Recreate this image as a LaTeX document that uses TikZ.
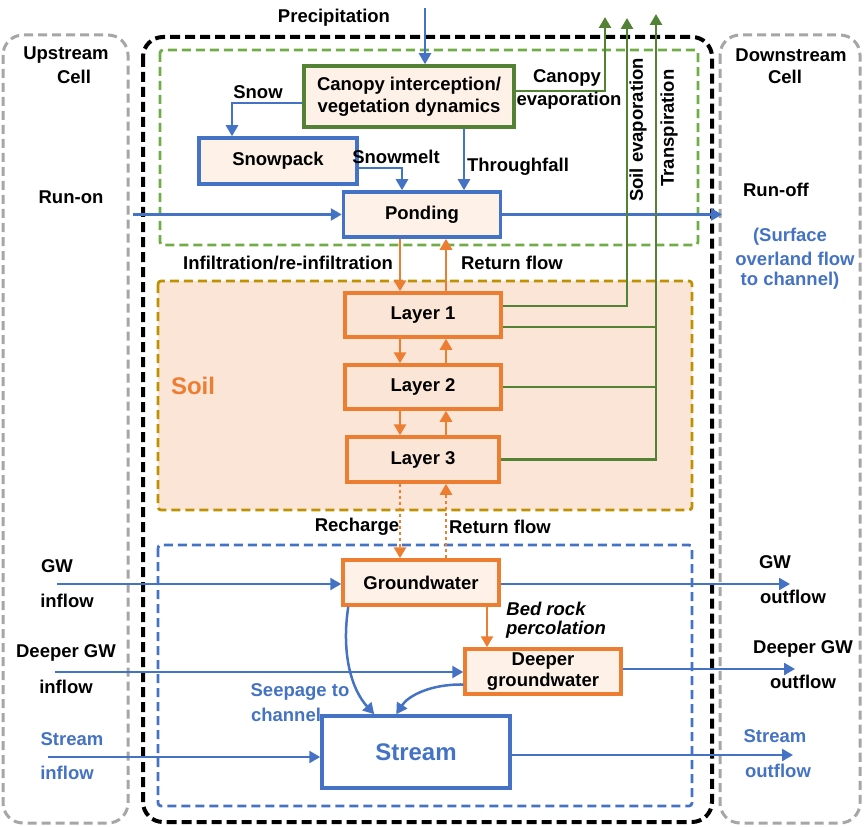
\documentclass[tikz,border=0pt]{standalone}
\usepackage{fontspec}
\setmainfont{Liberation Sans}
\usetikzlibrary{arrows.meta}
\definecolor{cblue}{HTML}{4472C4}
\definecolor{corange}{HTML}{ED7D31}
\definecolor{cgreen}{HTML}{548235}
\definecolor{lgreen}{HTML}{70AD47}
\definecolor{cgold}{HTML}{BF9000}
\definecolor{soilfill}{HTML}{FBE5D6}
\definecolor{boxfill}{HTML}{FDF1E8}
\definecolor{cgray}{HTML}{A6A6A6}
\tikzset{
  lbl/.style={font=\fontsize{18.5}{20}\selectfont\bfseries, inner sep=0pt},
  blbl/.style={lbl, text=cblue},
  nbox/.style={draw, line width=3.5pt, inner sep=0pt, font=\fontsize{18.5}{22}\selectfont\bfseries, align=center},
  bbox/.style={nbox, draw=cblue, fill=boxfill},
  gbox/.style={nbox, draw=cgreen, fill=boxfill},
  obox/.style={nbox, draw=corange, fill=boxfill},
  lbox/.style={nbox, draw=corange, fill=soilfill},
  tip/.style={-{Triangle[length=11pt,width=12pt]}},
  barrow/.style={tip, draw=cblue, line width=2.5pt},
  oarrow/.style={tip, draw=corange, line width=2.8pt},
  odots/.style={oarrow, dash pattern=on 3pt off 3pt},
  garrow/.style={tip, draw=cgreen, line width=2.6pt},
  gline/.style={draw=cgreen, line width=2.6pt},
  dbox/.style={line width=3pt, dash pattern=on 9pt off 5pt},
}
\begin{document}
\begin{tikzpicture}[x=1pt,y=-1pt]
\useasboundingbox (0,0) rectangle (866,826);
% frames
\draw[dbox, cgray, rounded corners=20pt] (3,35) rectangle (128,823);
\draw[dbox, cgray, rounded corners=20pt] (720,35) rectangle (860,823);
\draw[dbox, black, line width=4pt, dash pattern=on 10pt off 5pt, rounded corners=20pt] (143,37) rectangle (712,822);
\draw[dbox, lgreen, line width=2.8pt, rounded corners=3pt] (160,50) rectangle (698,245);
\draw[dbox, cgold, line width=2.8pt, fill=soilfill, rounded corners=3pt] (158,281) rectangle (692,510);
\draw[dbox, cblue, line width=2.8pt, rounded corners=3pt] (158,545) rectangle (692,806);

% nodes
\node[gbox, minimum width=210pt, minimum height=61pt] (canopy) at (409,96.5) {Canopy interception/\\vegetation dynamics};
\node[bbox, minimum width=158pt, minimum height=46pt] (snowpack) at (278,161) {Snowpack};
\node[bbox, minimum width=157pt, minimum height=45pt] (ponding) at (422,214.5) {Ponding};
\node[lbox, minimum width=156pt, minimum height=44pt] (layer1) at (423,315) {Layer 1};
\node[lbox, minimum width=156pt, minimum height=44pt] (layer2) at (423,387) {Layer 2};
\node[lbox, minimum width=152pt, minimum height=45pt] (layer3) at (423,459.5) {Layer 3};
\node[obox, minimum width=156pt, minimum height=45pt] (gw) at (421,582.5) {Groundwater};
\node[obox, minimum width=156pt, minimum height=45pt, font=\fontsize{18.5}{21}\selectfont\bfseries] (deeper) at (543,671.5) {Deeper\\groundwater};
\node[nbox, draw=cblue, fill=white, minimum width=188pt, minimum height=72pt, text=cblue, font=\fontsize{24}{26}\selectfont\bfseries] (stream) at (416,752) {Stream};

% coordinates
\coordinate (pTop) at (425,8);
\coordinate (snowY) at (0,103);
\coordinate (snowX) at (232,0);
\coordinate (meltY) at (0,168);
\coordinate (meltX) at (402,0);
\coordinate (thrX) at (464,0);
\coordinate (runon) at (133,214.5);
\coordinate (runoff) at (722,214.5);
\coordinate (dnX) at (400,0);
\coordinate (upX) at (446,0);
\coordinate (ceY) at (0,91);
\coordinate (ceTop) at (605,17);
\coordinate (seY) at (0,306);
\coordinate (seTop) at (627,18);
\coordinate (trTop) at (656,14);
\coordinate (t1Y) at (0,327);
\coordinate (gwin) at (57,584);
\coordinate (gwout) at (790,584);
\coordinate (brX) at (487,0);
\coordinate (din) at (55,672);
\coordinate (dout) at (795,669);
\coordinate (sin) at (48,757);
\coordinate (sout) at (793,755);

% blue connectors top
\draw[barrow] (pTop) -- (canopy.north -| pTop);
\draw[barrow] (canopy.west |- snowY) -| (snowpack.north -| snowX);
\draw[barrow] (snowpack.east |- meltY) -| (ponding.north -| meltX);
\draw[barrow] (canopy.south -| thrX) -- (ponding.north -| thrX);
\draw[barrow] (runon) -- (ponding.west |- runon);
\draw[barrow] (ponding.east |- runoff) -- (runoff);

% orange soil exchanges
\draw[oarrow] (ponding.south -| dnX) -- (layer1.north -| dnX);
\draw[oarrow] (layer1.north -| upX) -- (ponding.south -| upX);
\draw[oarrow] (layer1.south -| dnX) -- (layer2.north -| dnX);
\draw[oarrow] (layer2.north -| upX) -- (layer1.south -| upX);
\draw[oarrow] (layer2.south -| dnX) -- (layer3.north -| dnX);
\draw[oarrow] (layer3.north -| upX) -- (layer2.south -| upX);
\draw[odots] (layer3.south -| dnX) -- (gw.north -| dnX);
\draw[odots] (gw.north -| upX) -- (layer3.south -| upX);

% green evaporation
\draw[garrow] (canopy.east |- ceY) -| (ceTop);
\draw[garrow] (layer1.east |- seY) -| (seTop);
\draw[garrow] (layer3.east) -| (trTop);
\draw[gline] (layer1.east |- t1Y) -- (trTop |- t1Y);
\draw[gline] (layer2.east) -- (trTop |- layer2.east);

% groundwater
\draw[barrow] (gwin) -- (gw.west |- gwin);
\draw[barrow] (gw.east |- gwout) -- (gwout);
\draw[oarrow, line width=2.5pt] (gw.south -| brX) -- (deeper.north -| brX);
\draw[barrow] (din) -- (deeper.west |- din);
\draw[barrow] (deeper.east |- dout) -- (dout);
\draw[barrow] ([xshift=7pt]gw.south west) .. controls (341,655) and (352,690) .. ([xshift=54pt]stream.north west);
\draw[barrow] ([yshift=-13pt]deeper.west) .. controls (430,684) and (408,696) .. ([xshift=76pt]stream.north west);
\draw[barrow] (sin) -- (stream.west |- sin);
\draw[barrow] (stream.east |- sout) -- (sout);

% labels
\node[lbl] (tPrec) at (334,18) {Precipitation};
\node[lbl] (tUp1) at (66,55) {Upstream};
\node[lbl] (tUp2) at (74,77) {Cell};
\node[lbl] (tDn1) at (791,55) {Downstream};
\node[lbl] (tDn2) at (785,77) {Cell};
\node[lbl] (tSnow) at (258,92) {Snow};
\node[lbl] (tCan1) at (567,78) {Canopy};
\node[lbl] (tCan2) at (569,101) {evaporation};
\node[lbl] (tMelt) at (396,157) {Snowmelt};
\node[lbl] (tThr) at (518,167) {Throughfall};
\node[lbl, rotate=90] (tSoilEv) at (638,130) {Soil evaporation};
\node[lbl, rotate=90] (tTrans) at (669,128) {Transpiration};
\node[lbl] (tRunon) at (71,197) {Run-on};
\node[lbl] (tRunoff) at (776,190) {Run-off};
\node[blbl] (tSurf1) at (790,237) {(Surface};
\node[blbl] (tSurf2) at (795,259) {overland flow};
\node[blbl] (tSurf3) at (790,281) {to channel)};
\node[lbl] (tInf) at (288,263) {Infiltration/re-infiltration};
\node[lbl] (tRet1) at (512,263) {Return flow};
\node[lbl, text=corange, font=\fontsize{24}{26}\selectfont\bfseries] (tSoil) at (193,386) {Soil};
\node[lbl] (tRech) at (357,527) {Recharge};
\node[lbl] (tRet2) at (500,527) {Return flow};
\node[lbl] (tGWin1) at (57,566) {GW};
\node[lbl] (tGWin2) at (67,601) {inflow};
\node[lbl] (tGWout1) at (775,562) {GW};
\node[lbl] (tGWout2) at (793,597) {outflow};
\node[lbl, font=\fontsize{18.5}{20}\selectfont\bfseries\itshape] (tBed1) at (546,609) {Bed rock};
\node[lbl, font=\fontsize{18.5}{20}\selectfont\bfseries\itshape] (tBed2) at (556,630) {percolation};
\node[lbl] (tDin1) at (66,653) {Deeper GW};
\node[lbl] (tDin2) at (66,687) {inflow};
\node[lbl] (tDout1) at (803,649) {Deeper GW};
\node[lbl] (tDout2) at (803,682) {outflow};
\node[blbl] (tSeep1) at (300,692) {Seepage to};
\node[blbl] (tSeep2) at (286,715) {channel};
\node[blbl] (tSin1) at (72,739) {Stream};
\node[blbl] (tSin2) at (67,773) {inflow};
\node[blbl] (tSout1) at (775,736) {Stream};
\node[blbl] (tSout2) at (778,771) {outflow};
\end{tikzpicture}
\end{document}
